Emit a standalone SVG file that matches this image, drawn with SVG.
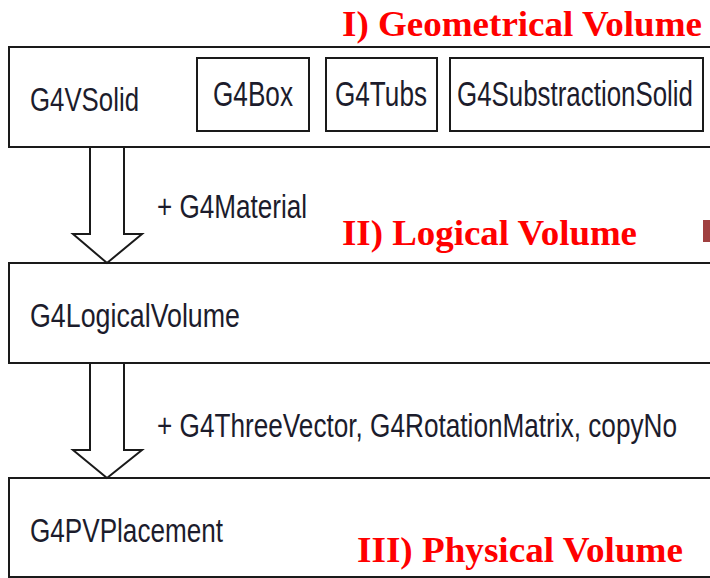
<svg xmlns="http://www.w3.org/2000/svg" width="710" height="578" viewBox="0 0 710 578">
<style>
.box{fill:#fff;stroke:#1a1a1a;stroke-width:2}
.lbl{font-family:"Liberation Sans",Arial,sans-serif;fill:#1c1c2c;font-size:26px}
.ttl{font-family:"Liberation Serif","Times New Roman",serif;font-weight:bold;fill:#ff0000;font-size:35px}
.arr{fill:#fff;stroke:#1a1a1a;stroke-width:2;stroke-linejoin:miter}
</style>
<rect width="710" height="578" fill="#fff"/>
<g id="solid">
<rect class="box" x="9" y="47" width="710" height="100"/>
<text class="lbl" transform="translate(30,111) scale(1,1.3)" textLength="109" lengthAdjust="spacingAndGlyphs">G4VSolid</text>
</g>
<g id="g4box">
<rect class="box" x="197" y="58" width="112" height="73"/>
<text class="lbl" transform="translate(213,106) scale(1,1.38)" textLength="80" lengthAdjust="spacingAndGlyphs">G4Box</text>
</g>
<g id="g4tubs">
<rect class="box" x="326" y="58" width="111" height="73"/>
<text class="lbl" transform="translate(335,106) scale(1,1.38)" textLength="92" lengthAdjust="spacingAndGlyphs">G4Tubs</text>
</g>
<g id="g4sub">
<rect class="box" x="450" y="58" width="253" height="73"/>
<text class="lbl" transform="translate(457,106) scale(1,1.38)" textLength="236" lengthAdjust="spacingAndGlyphs">G4SubstractionSolid</text>
</g>
<g id="logical">
<rect class="box" x="9" y="263" width="710" height="100"/>
<text class="lbl" transform="translate(30,327) scale(1,1.3)" textLength="210" lengthAdjust="spacingAndGlyphs">G4LogicalVolume</text>
</g>
<g id="physical">
<rect class="box" x="9" y="478" width="710" height="99"/>
<text class="lbl" transform="translate(30,542) scale(1,1.3)" textLength="193" lengthAdjust="spacingAndGlyphs">G4PVPlacement</text>
</g>
<g id="connectors">
<path class="arr" d="M90,148 V234 H73 L107,263 L142,234 H124 V148"/>
<path class="arr" d="M90,364 V450 H73 L107,478 L142,450 H124 V364"/>
<text class="lbl" transform="translate(157,218) scale(1,1.3)" textLength="150" lengthAdjust="spacingAndGlyphs">+ G4Material</text>
<text class="lbl" transform="translate(157,437) scale(1,1.3)" textLength="520" lengthAdjust="spacingAndGlyphs">+ G4ThreeVector, G4RotationMatrix, copyNo</text>
</g>
<g id="titles">
<text class="ttl" x="342" y="36" textLength="360" lengthAdjust="spacingAndGlyphs">I) Geometrical Volume</text>
<text class="ttl" x="342" y="245" textLength="295" lengthAdjust="spacingAndGlyphs">II) Logical Volume</text>
<text class="ttl" x="357" y="562" textLength="326" lengthAdjust="spacingAndGlyphs">III) Physical Volume</text>
<rect x="703" y="220" width="8" height="22" fill="#a04040"/>
</g>
</svg>
